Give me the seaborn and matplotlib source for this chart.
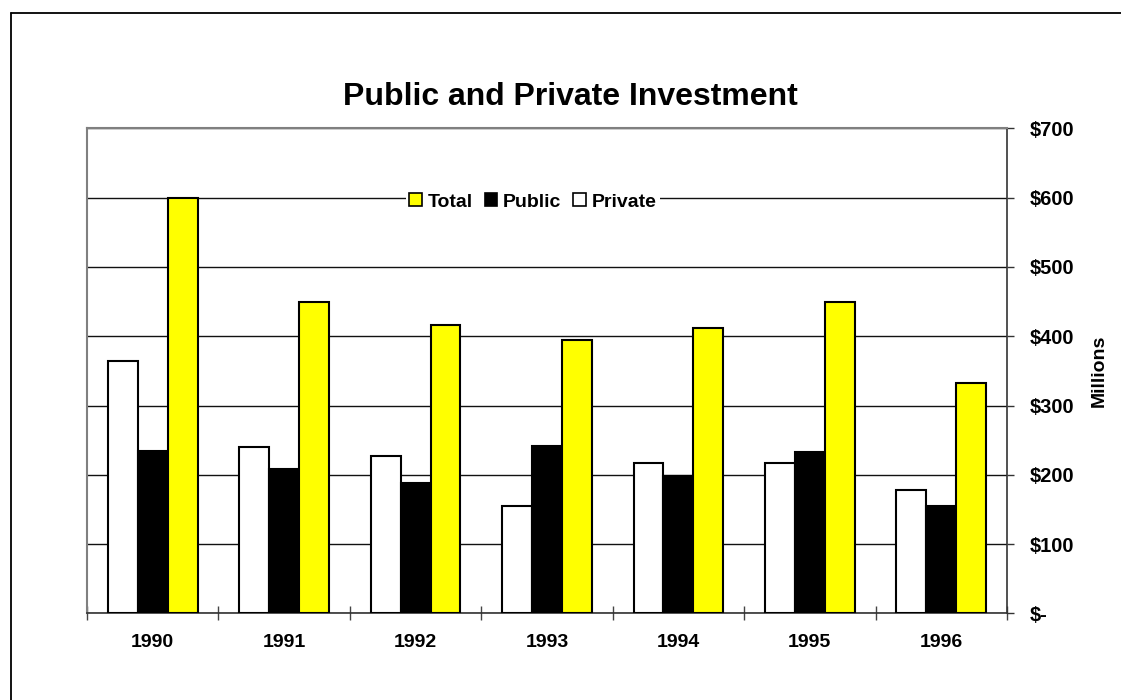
import matplotlib
matplotlib.use("Agg")
import matplotlib.pyplot as plt
from matplotlib.lines import Line2D
from matplotlib.ticker import FixedLocator, FuncFormatter
import seaborn as sns
import pandas as pd

# Investment by year, in millions of dollars
years = ["1990", "1991", "1992", "1993", "1994", "1995", "1996"]
private = [364, 240, 227, 155, 217, 217, 178]
public = [234, 209, 188, 241, 198, 233, 155]
total = [600, 450, 416, 395, 412, 449, 333]

series_names = ["Private", "Public", "Total"]
series_colors = {"Private": "#FFFFFF", "Public": "#000000", "Total": "#FFFF00"}

df = pd.DataFrame({
    "Year": years * 3,
    "Series": ["Private"] * len(years) + ["Public"] * len(years) + ["Total"] * len(years),
    "Value": private + public + total,
})

sns.set_theme(style="white")
plt.rcParams["font.family"] = ["Liberation Sans", "DejaVu Sans"]
plt.rcParams["font.weight"] = "bold"
plt.rcParams["text.color"] = "black"
plt.rcParams["xtick.color"] = "black"
plt.rcParams["ytick.color"] = "black"
plt.rcParams["axes.labelcolor"] = "black"

fig = plt.figure(figsize=(11.21, 7.0), dpi=100)
ax = fig.add_axes([0.0776, 0.1236, 0.8207, 0.6931])

sns.barplot(data=df, x="Year", y="Value", hue="Series", hue_order=series_names,
            palette=series_colors, saturation=1, order=years, width=0.683, gap=0,
            edgecolor="black", linewidth=1.5, ax=ax, zorder=3, legend=True)

ax.set_ylim(0, 700)
ax.set_xlim(-0.5, len(years) - 0.5)

# Horizontal gridlines
ax.yaxis.set_major_locator(FixedLocator(range(0, 701, 100)))
ax.grid(axis="y", color="#111111", linewidth=1.0, zorder=0)
ax.set_axisbelow(True)

# Value axis on the right
ax.yaxis.tick_right()
ax.yaxis.set_label_position("right")
ax.yaxis.set_major_formatter(FuncFormatter(lambda v, p: "$-" if v == 0 else f"${int(v)}"))
ax.tick_params(axis="y", which="major", right=True, left=False, length=5, width=1,
               color="#333333", labelcolor="black", pad=11, labelsize=14.5,
               direction="out")
for lab in ax.get_yticklabels():
    lab.set_fontweight("bold")
ax.set_ylabel("Millions", fontsize=14, fontweight="bold", labelpad=12, rotation=90,
              color="black")

# Category axis: labels centered, ticks between categories
ax.set_xlabel("")
ax.tick_params(axis="x", which="major", length=0, pad=15, labelsize=14,
               labelcolor="black")
for lab in ax.get_xticklabels():
    lab.set_fontweight("bold")
ax.xaxis.set_minor_locator(FixedLocator([i - 0.5 for i in range(len(years) + 1)]))
ax.tick_params(axis="x", which="minor", bottom=True, length=10, width=1,
               color="#444444", direction="inout")

for side in ["left", "top"]:
    ax.spines[side].set_color("#808080")
    ax.spines[side].set_linewidth(1.5)
for side in ["right", "bottom"]:
    ax.spines[side].set_color("#333333")
    ax.spines[side].set_linewidth(1.2)
    ax.spines[side].set_visible(True)

# Legend: Total, Public, Private
handles, labels = ax.get_legend_handles_labels()
order = [labels.index(n) for n in ["Total", "Public", "Private"]]
leg = ax.legend([handles[i] for i in order], [labels[i] for i in order],
                ncol=3, loc="center", bbox_to_anchor=(533 / 1121, 1 - 202 / 700),
                bbox_transform=fig.transFigure, frameon=True, facecolor="white",
                edgecolor="none", framealpha=1, handlelength=0.65,
                handleheight=0.65, handletextpad=0.3, columnspacing=0.6,
                borderpad=0.2, prop={"weight": "bold", "size": 14})
leg.set_zorder(5)
for h in leg.legend_handles:
    h.set_edgecolor("black")
    h.set_linewidth(1.2)
for t in leg.get_texts():
    t.set_color("black")

fig.text(570 / 1121, 1 - 97 / 700, "Public and Private Investment", ha="center",
         va="center", fontsize=23, fontweight="bold", color="black")

# Outer frame of the chart area
fig.add_artist(Line2D([11 / 1121, 1.01], [1 - 13 / 700, 1 - 13 / 700],
                      transform=fig.transFigure, color="black", linewidth=1.3))
fig.add_artist(Line2D([11 / 1121, 11 / 1121], [-0.01, 1 - 13 / 700],
                      transform=fig.transFigure, color="black", linewidth=1.3))

fig.savefig("out.png", dpi=100, facecolor="white")
